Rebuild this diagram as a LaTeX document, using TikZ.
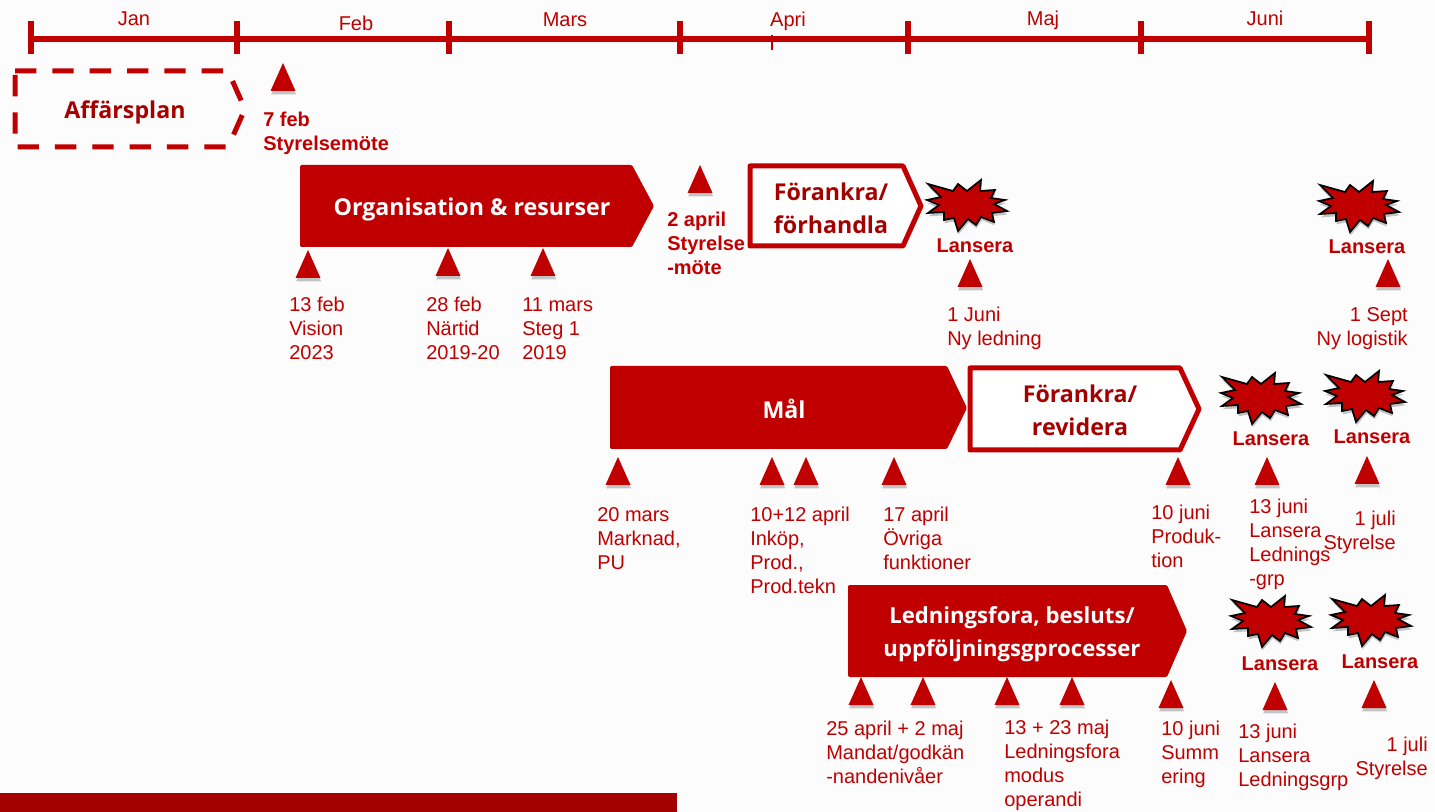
\documentclass[tikz,border=0pt]{standalone}
\usepackage{fontspec}
\setmainfont{Liberation Sans}
\newfontfamily\titlefont{Open Sans}
\usetikzlibrary{shadows}
\definecolor{planred}{HTML}{C00000}
\definecolor{darkred}{HTML}{A50000}
\tikzset{
  shade/.style={drop shadow={shadow xshift=0.5pt,shadow yshift=-2.5pt,opacity=.22,fill=black}},
  tick/.style={draw=planred,line width=4pt,shade},
  marker/.style={fill=planred,shade},
  burst/.style={fill=planred,draw=black,line width=1.3pt,line join=miter,shade},
  month/.style={text=planred,inner sep=0pt,font=\fontsize{15}{18}\selectfont},
  note/.style={text=planred,inner sep=0pt,anchor=north west,align=left,font=\fontsize{15}{18}\selectfont},
  notes/.style={note,anchor=north east,align=right},
  boldnote/.style={note,font=\fontsize{15}{18}\selectfont\bfseries},
  launch/.style={text=planred,inner sep=0pt,font=\fontsize{15}{18}\selectfont\bfseries},
  phase/.style={text=white,inner sep=0pt,align=center,font=\fontsize{17.4}{24.75}\titlefont\bfseries},
  phaseout/.style={phase,text=darkred},
  phasesmall/.style={phase,font=\fontsize{16.6}{24.75}\titlefont\bfseries},
}
\begin{document}
\begin{tikzpicture}[x=0.75pt,y=-0.75pt]
  \useasboundingbox (0,0) rectangle (1435,812);
  \fill[white!99!black] (0,0) rectangle (1435,812);
  % Time line
  \draw[tick] (31,39) -- (1369,39);
  \foreach \x in {31,237,449,680,908,1141,1369} {
    \draw[tick] (\x,21) -- (\x,54);
  }
  \draw[planred,line width=1.5pt] (772,35) -- (772,50);
  \foreach \x/\y/\txt in {134/19/Jan,356/23/Feb,565/20/Mars,788/21/Apri,1043/20/Maj,1265/18/Juni} {
    \node[month] (m\txt) at (\x,\y) {\txt};
  }
  % Phases
  \draw[planred,line width=3.75pt,dash pattern=on 16pt off 12pt] (15,71) -- (228,71) -- (245,109) -- (228,147) -- (15,147) -- cycle;
  \node[phaseout] (plan) at (125,112) {Affärsplan};
  \fill[planred,rounded corners=1pt] (300,165) -- (632,165) -- (654,206) -- (632,247) -- (300,247) -- cycle;
  \node[phase] (org) at (472,209) {Organisation \& resurser};
  \draw[planred,line width=3.75pt,fill=white,line join=round] (750,166) -- (903,166) -- (921,206) -- (903,246) -- (750,246) -- cycle;
  \node[phaseout] (anchor1) at (831,208) {Förankra/\\förhandla};
  \fill[planred,rounded corners=1pt] (610,366) -- (947,366) -- (967,408) -- (947,449) -- (610,449) -- cycle;
  \node[phase] (goal) at (784,409) {Mål};
  \draw[planred,line width=3.75pt,fill=white,line join=round] (970,368) -- (1180,368) -- (1199,409) -- (1180,450) -- (970,450) -- cycle;
  \node[phaseout] (anchor2) at (1080,410) {Förankra/\\revidera};
  \fill[planred,rounded corners=1pt] (848,585) -- (1167,585) -- (1187,631) -- (1167,677) -- (848,677) -- cycle;
  \node[phasesmall] (forum) at (1012,634) {Ledningsfora, besluts/\\uppföljningsgprocesser};
  % Markers
  \foreach \x/\y in {283/63,308/250,448/248,543/248,700/165,970/259,1388/259,
    618/457,772/457,806/457,894/457,1178/457,1267/457,1367/456,
    861/677,923/677,1007/677,1072/677,1171/680,1275/682,1374/680} {
    \fill[marker] (\x,\y) -- (\x+12.5,\y+28) -- (\x-12.5,\y+28) -- cycle;
  }
  % Bursts
  \foreach \x/\y in {967/205,1359/206,1261/398,1365/396,1271/621,1371/620} {
    \draw[burst,shift={(\x,\y)}] (-39,-21) -- (-14,-14) -- (-9,-21) -- (0,-14) -- (14,-25) -- (13,-14)
      -- (28,-15) -- (24,-7) -- (38,-5) -- (27,-1) -- (40,6) -- (25,8) -- (27,17) -- (14,12)
      -- (9,20) -- (1,14) -- (-9,26) -- (-13,13) -- (-23,15) -- (-23,7) -- (-39,8) -- (-28,0)
      -- (-40,-5) -- (-26,-8) -- cycle;
  }
  \foreach \x/\y [count=\i] in {975/246,1367/247,1271/439,1372/437,1280/664,1380/662} {
    \node[launch] (launch\i) at (\x,\y) {Lansera};
  }
  % Labels
  \node[boldnote] (board1) at (263,112) {7 feb\\Styrelsemöte};
  \node[boldnote] (board2) at (667,212) {2 april\\Styrelse\\-möte};
  \foreach \x/\y/\txt [count=\i] in {
    289/297/{13 feb\\Vision\\2023},
    426/297/{28 feb\\Närtid\\2019-20},
    522/297/{11 mars\\Steg 1\\2019},
    947/307/{1 Juni\\Ny ledning},
    597/507/{20 mars\\Marknad,\\PU},
    750/507/{10+12 april\\Inköp,\\Prod.,\\Prod.tekn},
    883/507/{17 april\\Övriga\\funktioner},
    1151/505/{10 juni\\Produk-\\tion},
    1249/499/{13 juni\\Lansera\\Lednings\\-grp},
    826/721/{25 april + 2 maj\\Mandat/godkän\\-nandenivåer},
    1004/720/{13 + 23 maj\\Ledningsfora\\modus\\operandi},
    1161/721/{10 juni\\Summ\\ering},
    1238/724/{13 juni\\Lansera\\Ledningsgrp}} {
    \node[note] (date\i) at (\x,\y) {\txt};
  }
  \foreach \x/\y/\txt [count=\i] in {
    1408/307/{1 Sept\\Ny logistik},
    1396/511/{1 juli\\Styrelse},
    1428/737/{1 juli\\Styrelse}} {
    \node[notes] (right\i) at (\x,\y) {\txt};
  }
  % Footer
  \fill[darkred] (0,793) rectangle (677,812);
\end{tikzpicture}
\end{document}
